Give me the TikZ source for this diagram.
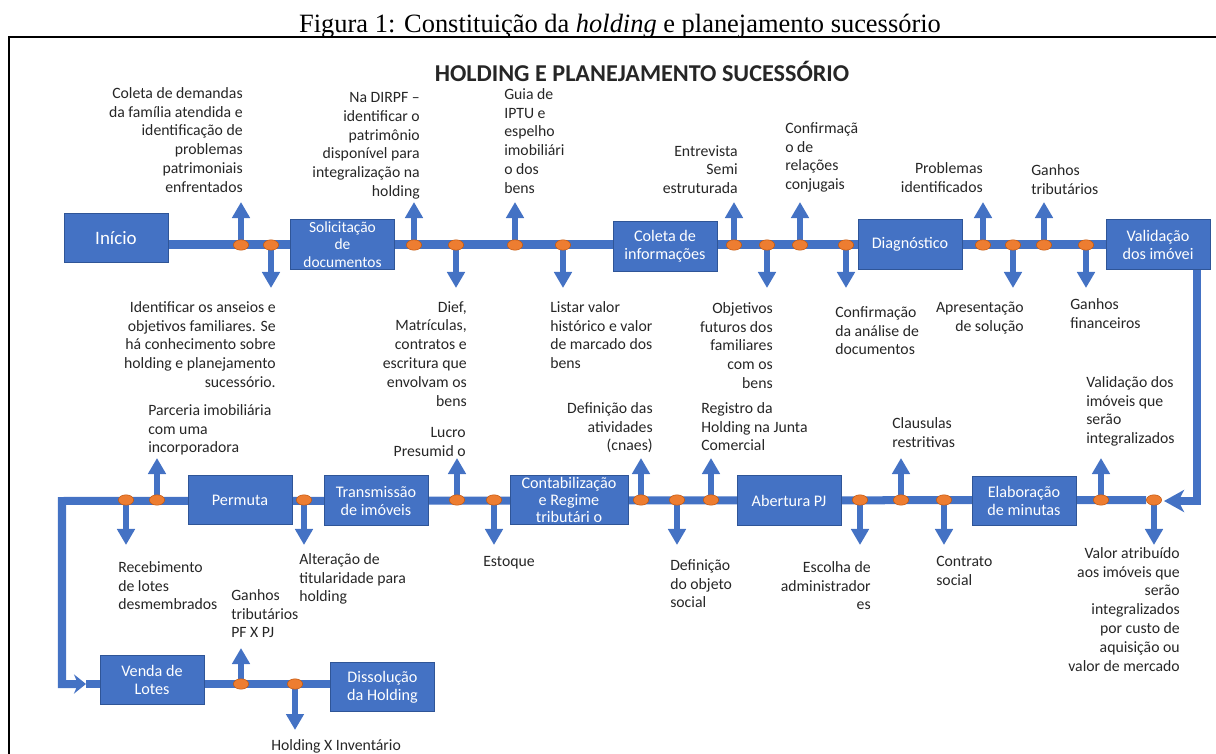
\documentclass[tikz,border=0pt]{standalone}
\usepackage{fontspec}
\setmainfont{Carlito}
\newfontfamily\legendafont{Liberation Serif}
\usetikzlibrary{arrows.meta, shapes.geometric, backgrounds}
\definecolor{Azul}{RGB}{68, 114, 196}
\definecolor{AzulEscuro}{RGB}{47, 85, 151}
\definecolor{Laranja}{RGB}{237, 125, 49}
\definecolor{LaranjaEscuro}{RGB}{197, 90, 17}
\definecolor{Texto}{RGB}{38, 38, 38}
\tikzset{
    etapa/.style = {rectangle, fill=Azul, draw=AzulEscuro, line width=0.6pt, text=white, align=center,
                    minimum width=2.6cm, minimum height=1.23cm, inner sep=1pt, font=\fontsize{11.5}{12.8}\selectfont},
    ponto/.style = {ellipse, fill=Laranja, draw=LaranjaEscuro, line width=0.4pt, minimum width=0.38cm,
                    minimum height=0.26cm, inner sep=0pt},
    nota/.style = {inner sep=0pt, text=Texto, font=\fontsize{11.2}{13.4}\selectfont},
    fluxo/.style = {draw=Azul, line width=0.2cm},
    seta/.style = {draw=Azul, line width=0.13cm, arrows = {-Triangle[width=0.43cm, length=0.4cm]}}
}

\begin{document}
\begin{tikzpicture}[x=0.025cm, y=-0.025cm]
    \useasboundingbox (0,0) rectangle (1216,754);

    %%% Legenda e moldura
    \node[anchor=base, font=\legendafont\fontsize{18.8}{22}\selectfont] (legenda) at (620,33)
        {Figura 1: Constituição da \textit{holding} e planejamento sucessório};
    \coordinate (mold1) at (9,754);
    \coordinate (mold2) at (9,37);
    \coordinate (mold3) at (1216,37);
    \draw[line width=1.2pt] (mold1) -- (mold2) -- (mold3);

    \node[font=\bfseries\fontsize{17.2}{20}\selectfont, text=Texto] (titulo) at (642,71) {HOLDING E PLANEJAMENTO SUCESSÓRIO};

    %%% Etapas
    % linha 1
    \node[etapa, font=\fontsize{13.5}{15}\selectfont] (inicio) at (116,238) {Início};
    \node[etapa, font=\fontsize{11}{12.4}\selectfont] (solic) at (342.5,244.5) {Solicitação\\de\\documentos};
    \node[etapa] (coleta) at (665,246.5) {Coleta de\\informações};
    \node[etapa] (diag)   at (910,244.5) {Diagnóstico};
    \node[etapa] (valid)  at (1158,244.5) {Validação\\dos imóvei};
    % linha 2
    \node[etapa] (permuta) at (240,500) {Permuta};
    \node[etapa] (transm)  at (376,500.5) {Transmissão\\de imóveis};
    \node[etapa, minimum width=2.95cm, font=\fontsize{11.5}{11.9}\selectfont] (contab) at (569,500) {Contabilização\\e Regime\\tributári o};
    \node[etapa] (abert)   at (789,500.5) {Abertura PJ};
    \node[etapa] (elab)    at (1024,501) {Elaboração\\de minutas};
    % linha 3
    \node[etapa] (venda)  at (152,680) {Venda de\\Lotes};
    \node[etapa] (dissol) at (382.5,687) {Dissolução\\da Holding};

    %%% Pontos
    \foreach \nome/\x/\fim in {a1/241/202, a2/271/288, a3/414/202, a4/456/288, a5/515/202, a6/563/288,
                               a7/734/202, a8/767/288, a9/800/202, a10/846/288, a11/983/202, a12/1013/288,
                               a13/1044/202, a14/1086/288}{
        \node[ponto] (\nome) at (\x,245) {};
        \coordinate (\nome-fim) at (\x,\fim);
    }
    \foreach \nome/\x/\fim in {b1/126/545, b2/157/458, b3/304/545, b4/457/458, b5/494/545, b6/641/458,
                               b7/677/545, b8/711/458, b9/860/545, b10/901/458, b11/944/545, b12/1101/458,
                               b13/1154/545}{
        \node[ponto] (\nome) at (\x,500) {};
        \coordinate (\nome-fim) at (\x,\fim);
    }
    \foreach \nome/\x/\fim in {c1/241/648, c2/295/730}{
        \node[ponto] (\nome) at (\x,684) {};
        \coordinate (\nome-fim) at (\x,\fim);
    }

    % cantos do fluxo
    \coordinate (desce)  at (1197,501);
    \coordinate (r2fim)  at (1164,501);
    \coordinate (canto2) at (62,501);
    \coordinate (canto3) at (62,684);
    \coordinate (r3seta) at (86,684);

    %%% Fluxo (atras das etapas)
    \begin{pgfonlayer}{background}
        \draw[fluxo] (inicio.east |- solic) -- (valid.west |- solic);
        \draw[fluxo, arrows = {-Stealth[width=0.55cm, length=0.5cm, inset=0.14cm]}] (valid.south -| desce) -- (desce) -- (r2fim);
        \draw[fluxo, arrows = {-Stealth[width=0.48cm, length=0.3cm, inset=0.1cm]}] (b13) -- (canto2) -- (canto3) -- (r3seta);
        \draw[fluxo] (r3seta) -- (dissol.west |- r3seta);
        \foreach \nome in {a1,a2,a3,a4,a5,a6,a7,a8,a9,a10,a11,a12,a13,a14,
                           b1,b2,b3,b4,b5,b6,b7,b8,b9,b10,b11,b12,b13,c1,c2}
            \draw[seta] (\nome) -- (\nome-fim);
    \end{pgfonlayer}

    %%% Notas
    % linha 1, acima
    \node[nota, align=right, anchor=north east] (n1) at (243,87) {Coleta de demandas\\da família atendida e\\identificação de\\problemas\\patrimoniais\\enfrentados};
    \node[nota, align=right, anchor=north east] (n3) at (420,92) {Na DIRPF --\\identificar o\\patrimônio\\disponível para\\integralização na\\holding};
    \node[nota, align=left, anchor=north west] (n5) at (504,88) {Guia de\\IPTU e\\espelho\\imobiliári\\o dos\\bens};
    \node[nota, align=right, anchor=north east] (n7) at (738,145) {Entrevista\\Semi\\estruturada};
    \node[nota, align=left, anchor=north west] (n9) at (785,122) {Confirmaçã\\o de\\relações\\conjugais};
    \node[nota, align=right, anchor=north east] (n11) at (983,162) {Problemas\\identificados};
    \node[nota, align=left, anchor=north west] (n13) at (1031,164) {Ganhos\\tributários};
    % linha 1, abaixo
    \node[nota, align=right, anchor=north east] (n2) at (276,301) {Identificar os anseios e\\objetivos familiares. Se\\há conhecimento sobre\\holding e planejamento\\sucessório.};
    \node[nota, align=right, anchor=north east] (n4) at (467,301) {Dief,\\Matrículas,\\contratos e\\escritura que\\envolvam os\\bens};
    \node[nota, align=left, anchor=north west] (n6) at (550,301) {Listar valor\\histórico e valor\\de marcado dos\\bens};
    \node[nota, align=right, anchor=north east] (n8) at (773,302) {Objetivos\\futuros dos\\familiares\\com os\\bens};
    \node[nota, align=left, anchor=north west] (n10) at (835,306) {Confirmação\\da análise de\\documentos};
    \node[nota, align=right, anchor=north east] (n12) at (1024,302) {Apresentação\\de solução};
    \node[nota, align=left, anchor=north west] (n14) at (1070,298) {Ganhos\\financeiros};
    % linha 2, acima
    \node[nota, align=left, anchor=north west] (m2) at (148,404) {Parceria imobiliária\\com uma\\incorporadora};
    \node[nota, align=right, anchor=north east] (m4) at (466,427) {Lucro\\Presumid o};
    \node[nota, align=right, anchor=north east] (m6) at (653,402) {Definição das\\atividades\\(cnaes)};
    \node[nota, align=left, anchor=north west] (m8) at (701,402) {Registro da\\Holding na Junta\\Comercial};
    \node[nota, align=left, anchor=north west] (m10) at (892,417) {Clausulas\\restritivas};
    \node[nota, align=left, anchor=north west] (m12) at (1086,376) {Validação dos\\imóveis que\\serão\\integralizados};
    % linha 2, abaixo
    \node[nota, align=left, anchor=north west] (m1) at (118,561) {Recebimento\\de lotes\\desmembrados};
    \node[nota, align=left, anchor=north west] (m3) at (299,553) {Alteração de\\titularidade para\\holding};
    \node[nota, align=left, anchor=north west] (m5) at (483,556) {Estoque};
    \node[nota, align=left, anchor=north west] (m7) at (670,559) {Definição\\do objeto\\social};
    \node[nota, align=right, anchor=north east] (m9) at (871,561) {Escolha de\\administrador\\es};
    \node[nota, align=left, anchor=north west] (m11) at (936,556) {Contrato\\social};
    \node[nota, align=right, anchor=north east] (m13) at (1180,547) {Valor atribuído\\aos imóveis que\\serão\\integralizados\\por custo de\\aquisição ou\\valor de mercado};
    % linha 3
    \node[nota, align=left, anchor=north west] (k1) at (231,589) {Ganhos\\tributários\\PF X PJ};
    \node[nota, align=left, anchor=north west] (k2) at (271,739) {Holding X Inventário};
\end{tikzpicture}
\end{document}
